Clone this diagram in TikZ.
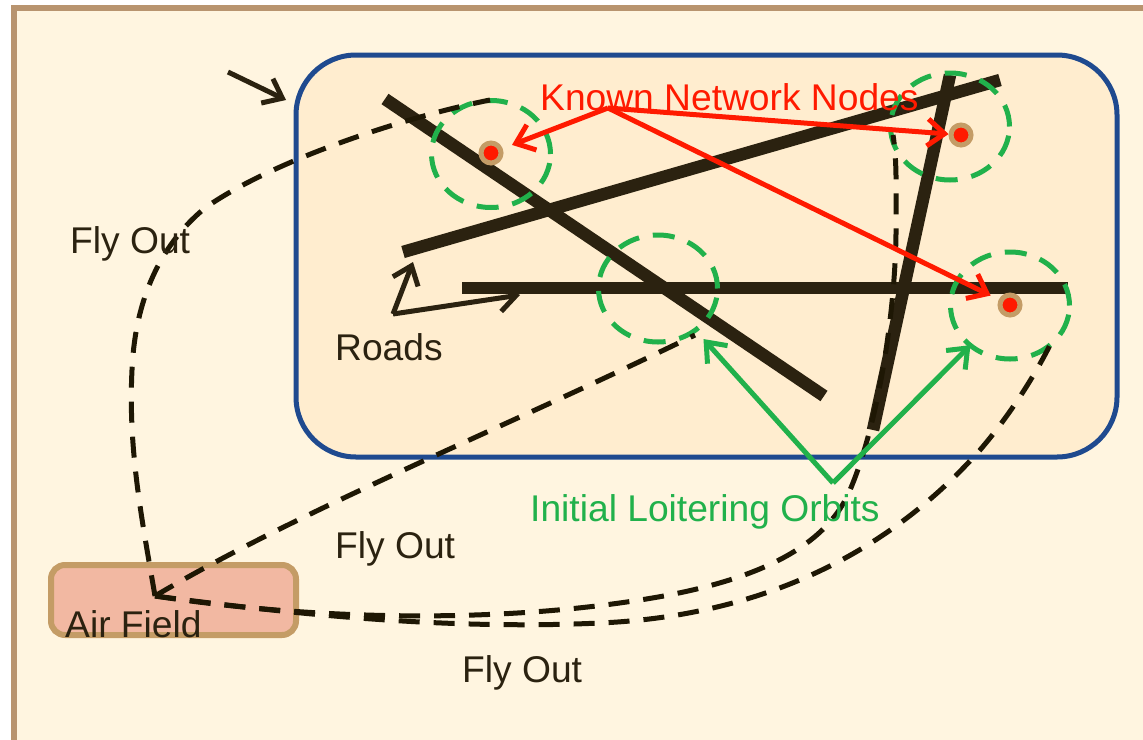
\documentclass[tikz,border=0pt]{standalone}
\usepackage{fontspec}
\setmainfont{Liberation Sans}
\usetikzlibrary{arrows.meta,shapes.geometric}
\definecolor{framec}{HTML}{B8946F}
\definecolor{paperc}{HTML}{FFF5E0}
\definecolor{zonec}{HTML}{FFEDCF}
\definecolor{bluec}{HTML}{1F4A8F}
\definecolor{darkc}{HTML}{2B2210}
\definecolor{dashc}{HTML}{1E1704}
\definecolor{greenc}{HTML}{21B14B}
\definecolor{redc}{HTML}{FF1A00}
\definecolor{tanc}{HTML}{C49C66}
\definecolor{fieldc}{HTML}{F2B8A2}
\tikzset{
 x=1pt,y=-1pt,
 label text/.style={anchor=base west,inner sep=0pt,font=\fontsize{37.2}{40}\selectfont,text=darkc},
 road/.style={draw=darkc,line width=12.5pt},
 orbit/.style={draw=greenc,line width=5pt,ellipse,inner sep=0pt,minimum width=119pt,minimum height=107pt,dash pattern=on 22pt off 14pt},
 flyout/.style={draw=dashc,line width=5pt,dash pattern=on 21pt off 14pt},
 barb/.style={-{Straight Barb[length=17pt,width=27pt]}},
 pointer/.style={barb,draw=darkc,line width=5pt},
 redarrow/.style={barb,draw=redc,line width=5pt},
 greenarrow/.style={barb,draw=greenc,line width=5pt},
 netnode/.style={circle,fill=redc,draw=tanc,line width=5pt,minimum size=20pt,inner sep=0pt},
}
\begin{document}
\begin{tikzpicture}
\useasboundingbox (0,0) rectangle (1143,739);
\fill[white] (0,0) rectangle (1143,739);
\draw[draw=framec,line width=5.5pt,fill=paperc] (14,8) -- (1160,8) -- (1160,760) -- (14,760) -- cycle;
\node[draw=bluec,line width=5pt,fill=zonec,rounded corners=60pt,minimum width=821pt,minimum height=402pt,inner sep=0pt] (zone) at (706.5,256) {};
\node[draw=tanc,line width=6pt,fill=fieldc,rounded corners=14pt,minimum width=245pt,minimum height=70pt,inner sep=0pt] (field) at (173.5,600) {};
% roads
\coordinate (r1a) at (385,99); \coordinate (r1b) at (824,396);
\coordinate (r2a) at (403,252); \coordinate (r2b) at (1000,80);
\coordinate (r3a) at (462,288); \coordinate (r3b) at (1068,288);
\coordinate (r4a) at (950,75); \coordinate (r4b) at (873,430);
\draw[road] (r1a) -- (r1b);
\draw[road] (r2a) -- (r2b);
\draw[road] (r3a) -- (r3b);
\draw[road] (r4a) -- (r4b);
% network nodes and orbits
\node[netnode] (nA) at (491,153) {};
\node[netnode] (nB) at (961,135) {};
\node[netnode] (nC) at (1010,305) {};
\node[orbit] (oA) at (491,154) {};
\node[orbit] (oB) at (658,288.5) {};
\node[orbit] (oC) at (950,126.5) {};
\node[orbit] (oD) at (1010,305.5) {};
% fly-out paths
\coordinate (af) at (155,596);
\coordinate (e1) at (490,100);
\coordinate (e2) at (695,335);
\coordinate (e3) at (893,135);
\coordinate (e4) at (1050,345);
\draw[flyout] (af) .. controls (142,520) and (128,450) .. (132,370) .. controls (135,300) and (160,245) .. (205,208) .. controls (270,162) and (400,118) .. (e1);
\draw[flyout] (af) .. controls (300,510) and (500,430) .. (e2);
\draw[flyout] (af) .. controls (300,618) and (480,625) .. (640,600) .. controls (750,583) and (825,550) .. (850,490) .. controls (880,420) and (897,300) .. (896,220) .. controls (896,190) and (897,160) .. (e3);
\draw[flyout] (af) .. controls (300,615) and (450,630) .. (600,623) .. controls (780,615) and (900,540) .. (980,450) .. controls (1010,415) and (1035,375) .. (e4);
% pointers
\coordinate (p1) at (228,72); \coordinate (p2) at (286,100);
\draw[pointer] (p1) -- (p2);
\coordinate (rd) at (393,314); \coordinate (rt1) at (413,262); \coordinate (rt2) at (520,295);
\draw[pointer] (rd) -- (rt1);
\draw[pointer] (rd) -- (rt2);
% red arrows
\coordinate (kn) at (608,108);
\draw[redarrow,shorten >=10pt] (kn) -- (nA);
\draw[redarrow,shorten >=0pt] (kn) -- (nB);
\draw[redarrow,shorten >=9pt] (kn) -- (nC);
% green arrows
\coordinate (lo) at (833,483);
\draw[greenarrow,shorten >=68pt] (lo) -- (oB.center);
\draw[greenarrow,shorten >=56pt] (lo) -- (oD.center);
% labels
\node[label text] (t1) at (70,253) {Fly Out};
\node[label text] (t2) at (335,558) {Fly Out};
\node[label text] (t3) at (462,682) {Fly Out};
\node[label text] (t4) at (335,360) {Roads};
\node[label text] (t5) at (65,637) {Air Field};
\node[label text,text=redc] (t6) at (540,110) {Known Network Nodes};
\node[label text,text=greenc] (t7) at (530,521) {Initial Loitering Orbits};
\end{tikzpicture}
\end{document}
